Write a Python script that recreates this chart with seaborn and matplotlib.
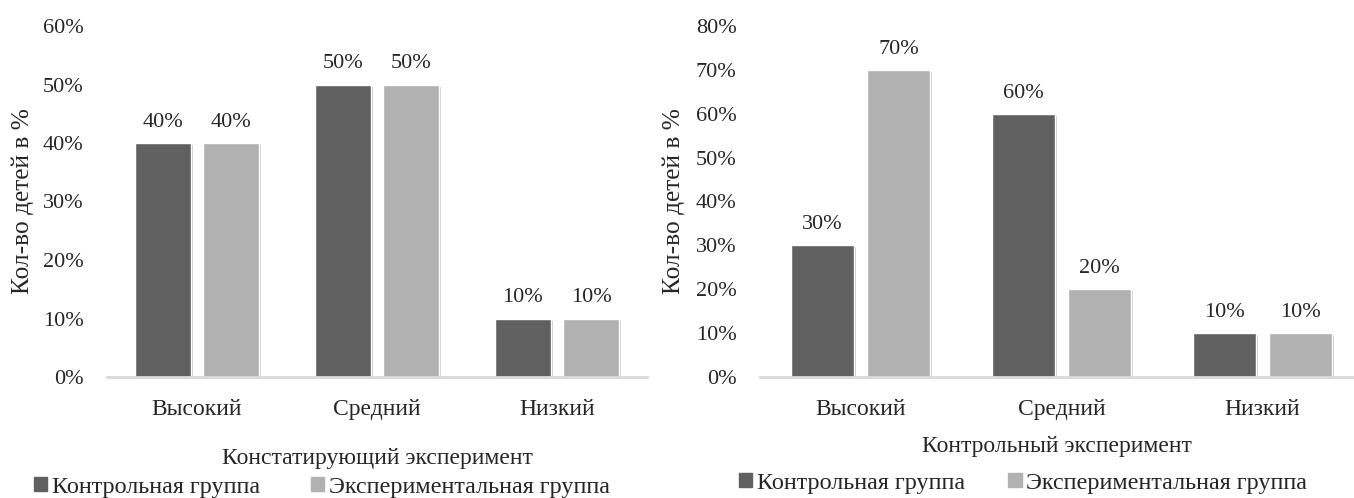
import matplotlib
matplotlib.use('Agg')
import matplotlib.pyplot as plt
import matplotlib.patheffects as pe
import pandas as pd
import seaborn as sns

# Data
levels = ['Высокий', 'Средний', 'Низкий']
groups = ['Контрольная группа', 'Экспериментальная группа']
stating_control = [40, 50, 10]
stating_exp = [40, 50, 10]
final_control = [30, 60, 10]
final_exp = [70, 20, 10]

dark = '#606060'
light = '#b1b1b1'

sns.set_style('white')
plt.rcParams['font.family'] = ['Liberation Serif', 'DejaVu Serif']
plt.rcParams['font.size'] = 16


def make_df(ctrl, exp):
    return pd.DataFrame({
        'level': levels * 2,
        'group': [groups[0]] * 3 + [groups[1]] * 3,
        'value': ctrl + exp,
    })


def draw_panel(ax, df, ymax, xlabel, xlabelpad, ylabelpad, xmax):
    sns.barplot(data=df, x='level', y='value', hue='group', order=levels,
                hue_order=groups, palette=[dark, light], saturation=1,
                width=0.76, gap=0.18, ax=ax)
    for cont in ax.containers:
        for bar in cont:
            bar.set_path_effects([pe.SimplePatchShadow(offset=(1.5, -1.5), alpha=0.25),
                                  pe.Normal()])
        ax.bar_label(cont, labels=[f'{v:.0f}%' for v in cont.datavalues],
                     padding=8, fontsize=16)
    ax.set_ylim(0, ymax)
    ax.set_xlim(-0.5, xmax)
    ax.set_yticks(range(0, ymax + 1, 10))
    ax.set_yticklabels([f'{t}%' for t in range(0, ymax + 1, 10)])
    ax.tick_params(axis='y', length=0, pad=17, labelsize=16)
    ax.tick_params(axis='x', length=0, pad=16, labelsize=17)
    ax.set_xlabel(xlabel, fontsize=17, labelpad=xlabelpad)
    ax.set_ylabel('Кол-во детей в %', fontsize=18.3, labelpad=ylabelpad)
    for s in ['top', 'right', 'left']:
        ax.spines[s].set_visible(False)
    ax.spines['bottom'].set_color('#d9d9d9')
    ax.spines['bottom'].set_linewidth(2)
    ax.grid(False)
    ax.get_legend().remove()


W, H = 1354, 498
fig = plt.figure(figsize=(13.54, 4.98), dpi=100)
ax1 = fig.add_axes([107 / W, 121 / H, 540 / W, 351 / H])
ax2 = fig.add_axes([760 / W, 121 / H, 594 / W, 351 / H])

draw_panel(ax1, make_df(stating_control, stating_exp), 60,
           'Констатирующий эксперимент', 20, 6, 2.5)
draw_panel(ax2, make_df(final_control, final_exp), 80,
           'Контрольный эксперимент', 11, 8, 594 / 201 - 0.5)

for cx, cy, cs in [(322, 487, 2.1), (1023, 483, 1.8)]:
    handles = [plt.Rectangle((0, 0), 1, 1, color=c) for c in (dark, light)]
    fig.legend(handles, groups, loc='center', bbox_to_anchor=(cx / W, 1 - cy / H),
               ncol=2, frameon=False,
               handlelength=0.55, handleheight=0.55, handletextpad=0.2,
               columnspacing=cs, fontsize=17.4, borderpad=0, borderaxespad=0)

fig.savefig('out.png', dpi=100)
